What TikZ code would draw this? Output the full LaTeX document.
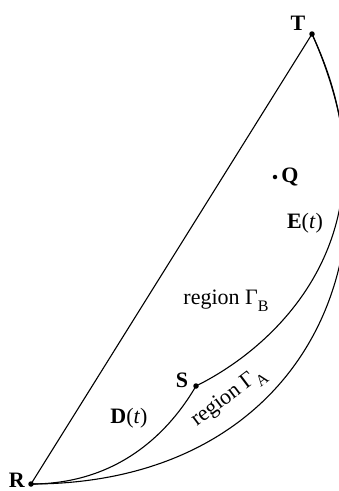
\documentclass[tikz,border=0pt]{standalone}
\usepackage{fontspec}
\setmainfont{Liberation Serif}
\usetikzlibrary{calc}
\tikzset{
  curve/.style={line width=1.1pt},
  lbl/.style={font=\fontsize{22}{26}\selectfont, inner sep=0pt},
  pt/.style={circle, fill=black, inner sep=0pt, minimum size=5.5pt}
}
\newcommand{\sub}[1]{\raisebox{-0.32em}{\fontsize{16}{16}\selectfont #1}}

\begin{document}
\begin{tikzpicture}[x=1pt, y=-1pt]
        \useasboundingbox (0,0) rectangle (339,491);
        \clip (0,0) rectangle (339,491);
        % points
        \node[pt] (R) at (31,484) {};
        \node[pt] (T) at (312,34) {};
        \node[pt] (S) at (196,386) {};
        \node[pt, minimum size=4.5pt] (Q) at (275,177) {};
        % chord and curves
        \draw[curve] (R.center) -- (T.center);
        \draw[curve] (R.center) .. controls (303,484) and (410,252) .. (T.center);
        \draw[curve] (R.center) .. controls (121,484) and (171,429) .. (S.center);
        \draw[curve] (S.center) .. controls (287,341) and (400,222) .. (T.center);
        % labels
        \node[lbl] (labT) at (298,23) {\textbf{T}};
        \node[lbl] (labR) at (17,480) {\textbf{R}};
        \node[lbl] (labS) at (182,380) {\textbf{S}};
        \node[lbl] (labQ) at (290,177) {\textbf{Q}};
        \node[lbl] (labE) at (305,223) {\textbf{E}(\textit{t})};
        \node[lbl] (labD) at (129,418) {\textbf{D}(\textit{t})};
        \node[lbl] (regB) at (226,301) {region Γ\sub{B}};
        \node[lbl, rotate=37] (regA) at (229,398) {region Γ\sub{A}};
    \end{tikzpicture}
\end{document}
